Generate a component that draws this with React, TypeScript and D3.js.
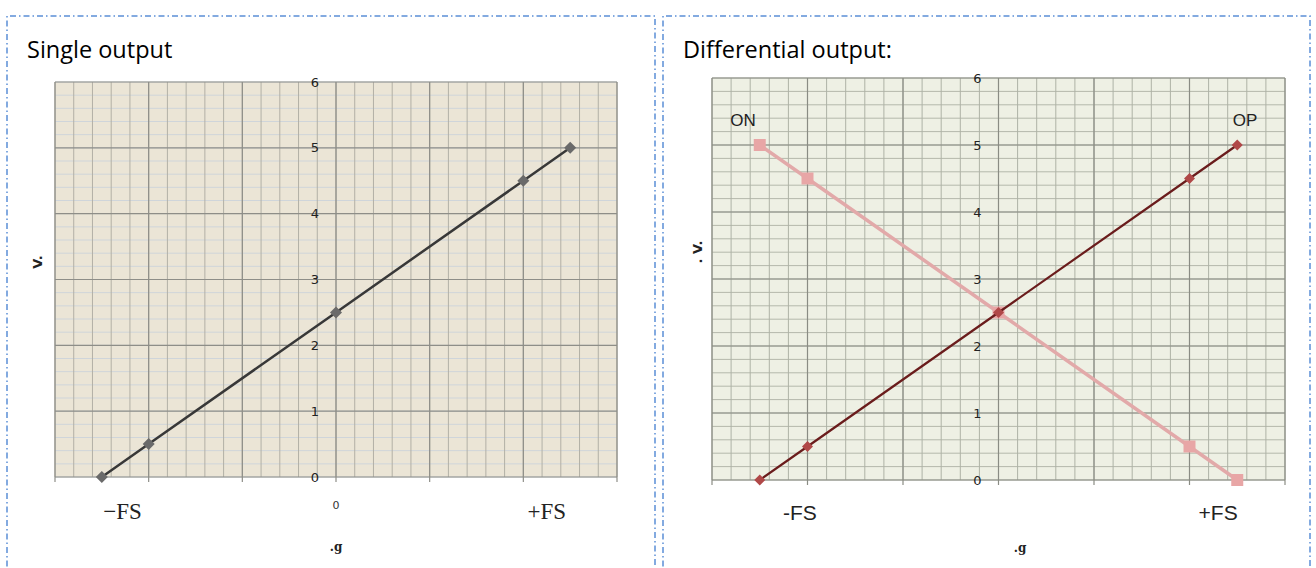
import React from "react";
import * as d3 from "d3";

// ---- data ----
const xValues = [-2.5, -2, 0, 2, 2.5];
const singleValues = [0, 0.5, 2.5, 4.5, 5];
const opValues = [0, 0.5, 2.5, 4.5, 5];
const onValues = [5, 4.5, 2.5, 0.5, 0];
const yTickValues = [0, 1, 2, 3, 4, 5, 6];
const leftXLabels = [
  { value: -2.28, text: "−FS", kind: "big" },
  { value: 0, text: "0", kind: "small" },
  { value: 2.25, text: "+FS", kind: "big" },
];
const rightXLabels = [
  { value: -2.08, text: "-FS" },
  { value: 2.3, text: "+FS" },
];
const xDomain: [number, number] = [-3, 3];
const yDomain: [number, number] = [0, 6];

type GridProps = {
  x: d3.ScaleLinear<number, number>;
  y: d3.ScaleLinear<number, number>;
  bg: string;
  majorColor: string;
  minorV: string;
  minorH: string;
};

function Grid({ x, y, bg, majorColor, minorV, minorH }: GridProps) {
  const [x0, x1] = x.range();
  const [y0, y1] = y.range();
  const minorX = d3.range(xDomain[0], xDomain[1] + 1e-6, 0.2);
  const minorY = d3.range(yDomain[0], yDomain[1] + 1e-6, 0.2);
  const majorX = d3.range(xDomain[0], xDomain[1] + 1e-6, 1);
  return (
    <g>
      <rect x={x0} y={y1} width={x1 - x0} height={y0 - y1} fill={bg} />
      {minorY.map((v, i) => (
        <line key={"mh" + i} x1={x0} x2={x1} y1={y(v)} y2={y(v)} stroke={minorH} strokeWidth={1} />
      ))}
      {minorX.map((v, i) => (
        <line key={"mv" + i} x1={x(v)} x2={x(v)} y1={y1} y2={y0} stroke={minorV} strokeWidth={1} />
      ))}
      {yTickValues.map((v, i) => (
        <line key={"Mh" + i} x1={x0} x2={x1} y1={y(v)} y2={y(v)} stroke={majorColor} strokeWidth={1.2} />
      ))}
      {majorX.map((v, i) => (
        <line key={"Mv" + i} x1={x(v)} x2={x(v)} y1={y1} y2={y0 + 5} stroke={majorColor} strokeWidth={1.2} />
      ))}
      {yTickValues.map((v) => (
        <text
          key={"yl" + v}
          x={x(0) - 21}
          y={y(v)}
          dy="0.35em"
          textAnchor="middle"
          fontFamily="'DejaVu Sans', sans-serif"
          fontSize={13}
          fill="#222"
        >
          {v}
        </text>
      ))}
    </g>
  );
}

function diamond(cx: number, cy: number, r: number) {
  return `M${cx},${cy - r}L${cx + r},${cy}L${cx},${cy + r}L${cx - r},${cy}Z`;
}

function Frame({ x0, x1 }: { x0: number; x1: number }) {
  return (
    <path
      d={`M${x0},580L${x0},16L${x1},16L${x1},580`}
      fill="none"
      stroke="#5b8fd6"
      strokeWidth={1.5}
      strokeDasharray="6 3 1.5 3"
    />
  );
}

export default function App() {
  const lx = d3.scaleLinear().domain(xDomain).range([55, 617]);
  const ly = d3.scaleLinear().domain(yDomain).range([477, 82]);
  const rx = d3.scaleLinear().domain(xDomain).range([712, 1285]);
  const ry = d3.scaleLinear().domain(yDomain).range([480, 78]);

  const leftLine = d3
    .line<number>()
    .x((_, i) => lx(xValues[i]))
    .y((d) => ly(d));
  const rLine = d3
    .line<number>()
    .x((_, i) => rx(xValues[i]))
    .y((d) => ry(d));

  return (
    <div style={{ position: "fixed", left: 0, top: 0 }}>
      <svg width={1316} height={568} style={{ display: "block", background: "#fff" }}>
        <Frame x0={7} x1={655} />
        <Frame x0={663} x1={1310} />

        {/* Titles */}
        <text x={27} y={58} fontFamily="'Open Sans', sans-serif" fontSize={23.5} fill="#000">
          Single output
        </text>
        <text x={683} y={58} fontFamily="'Open Sans', sans-serif" fontSize={23.5} fill="#000">
          Differential output:
        </text>

        {/* Left chart */}
        <Grid x={lx} y={ly} bg="#ebe5d6" majorColor="#8e8e88" minorV="#b2b0a6" minorH="#cfd5da" />
        <path d={leftLine(singleValues) || ""} fill="none" stroke="#383838" strokeWidth={2.5} />
        {singleValues.map((v, i) => (
          <path key={"lm" + i} d={diamond(lx(xValues[i]), ly(v), 6)} fill="#6a6a6a" />
        ))}
        {leftXLabels.map((l) =>
          l.kind === "big" ? (
            <text
              key={l.text}
              x={lx(l.value)}
              y={519}
              textAnchor="middle"
              fontFamily="'Liberation Serif', serif"
              fontSize={23}
              fill="#222"
            >
              {l.text}
            </text>
          ) : (
            <text
              key={l.text}
              x={lx(l.value)}
              y={509}
              textAnchor="middle"
              fontFamily="'DejaVu Sans', sans-serif"
              fontSize={11}
              fill="#333"
            >
              {l.text}
            </text>
          )
        )}
        <text x={lx(0)} y={551} textAnchor="middle" fontFamily="'DejaVu Serif', serif" fontSize={12} fontWeight="bold" fill="#222">
          .g
        </text>
        <text
          transform={`translate(42,262) rotate(-90)`}
          textAnchor="middle"
          fontFamily="'DejaVu Sans', sans-serif"
          fontSize={13}
          fontWeight="bold"
          fill="#222"
        >
          V.
        </text>

        {/* Right chart */}
        <Grid x={rx} y={ry} bg="#eef0e4" majorColor="#8a8c84" minorV="#aeb2a6" minorH="#b4b8ac" />
        <path d={rLine(onValues) || ""} fill="none" stroke="#e2a9a9" strokeWidth={3.5} />
        {onValues.map((v, i) => (
          <rect key={"on" + i} x={rx(xValues[i]) - 6} y={ry(v) - 6} width={12} height={12} fill="#e8a6a6" />
        ))}
        <path d={rLine(opValues) || ""} fill="none" stroke="#6a1c1c" strokeWidth={2.2} />
        {opValues.map((v, i) => (
          <path key={"op" + i} d={diamond(rx(xValues[i]), ry(v), 5.5)} fill="#b04848" />
        ))}
        <text x={743} y={126} textAnchor="middle" fontFamily="'Liberation Sans', sans-serif" fontSize={17} fill="#222">
          ON
        </text>
        <text x={1245} y={126} textAnchor="middle" fontFamily="'Liberation Sans', sans-serif" fontSize={17} fill="#222">
          OP
        </text>
        {rightXLabels.map((l) => (
          <text
            key={l.text}
            x={rx(l.value)}
            y={520}
            textAnchor="middle"
            fontFamily="'Liberation Sans', sans-serif"
            fontSize={21}
            fill="#222"
          >
            {l.text}
          </text>
        ))}
        <text x={1020} y={552} textAnchor="middle" fontFamily="'DejaVu Serif', serif" fontSize={12} fontWeight="bold" fill="#222">
          .g
        </text>
        <text
          transform={`translate(702,252) rotate(-90)`}
          textAnchor="middle"
          fontFamily="'DejaVu Sans', sans-serif"
          fontSize={13}
          fontWeight="bold"
          fill="#222"
        >
          . V.
        </text>
      </svg>
    </div>
  );
}
